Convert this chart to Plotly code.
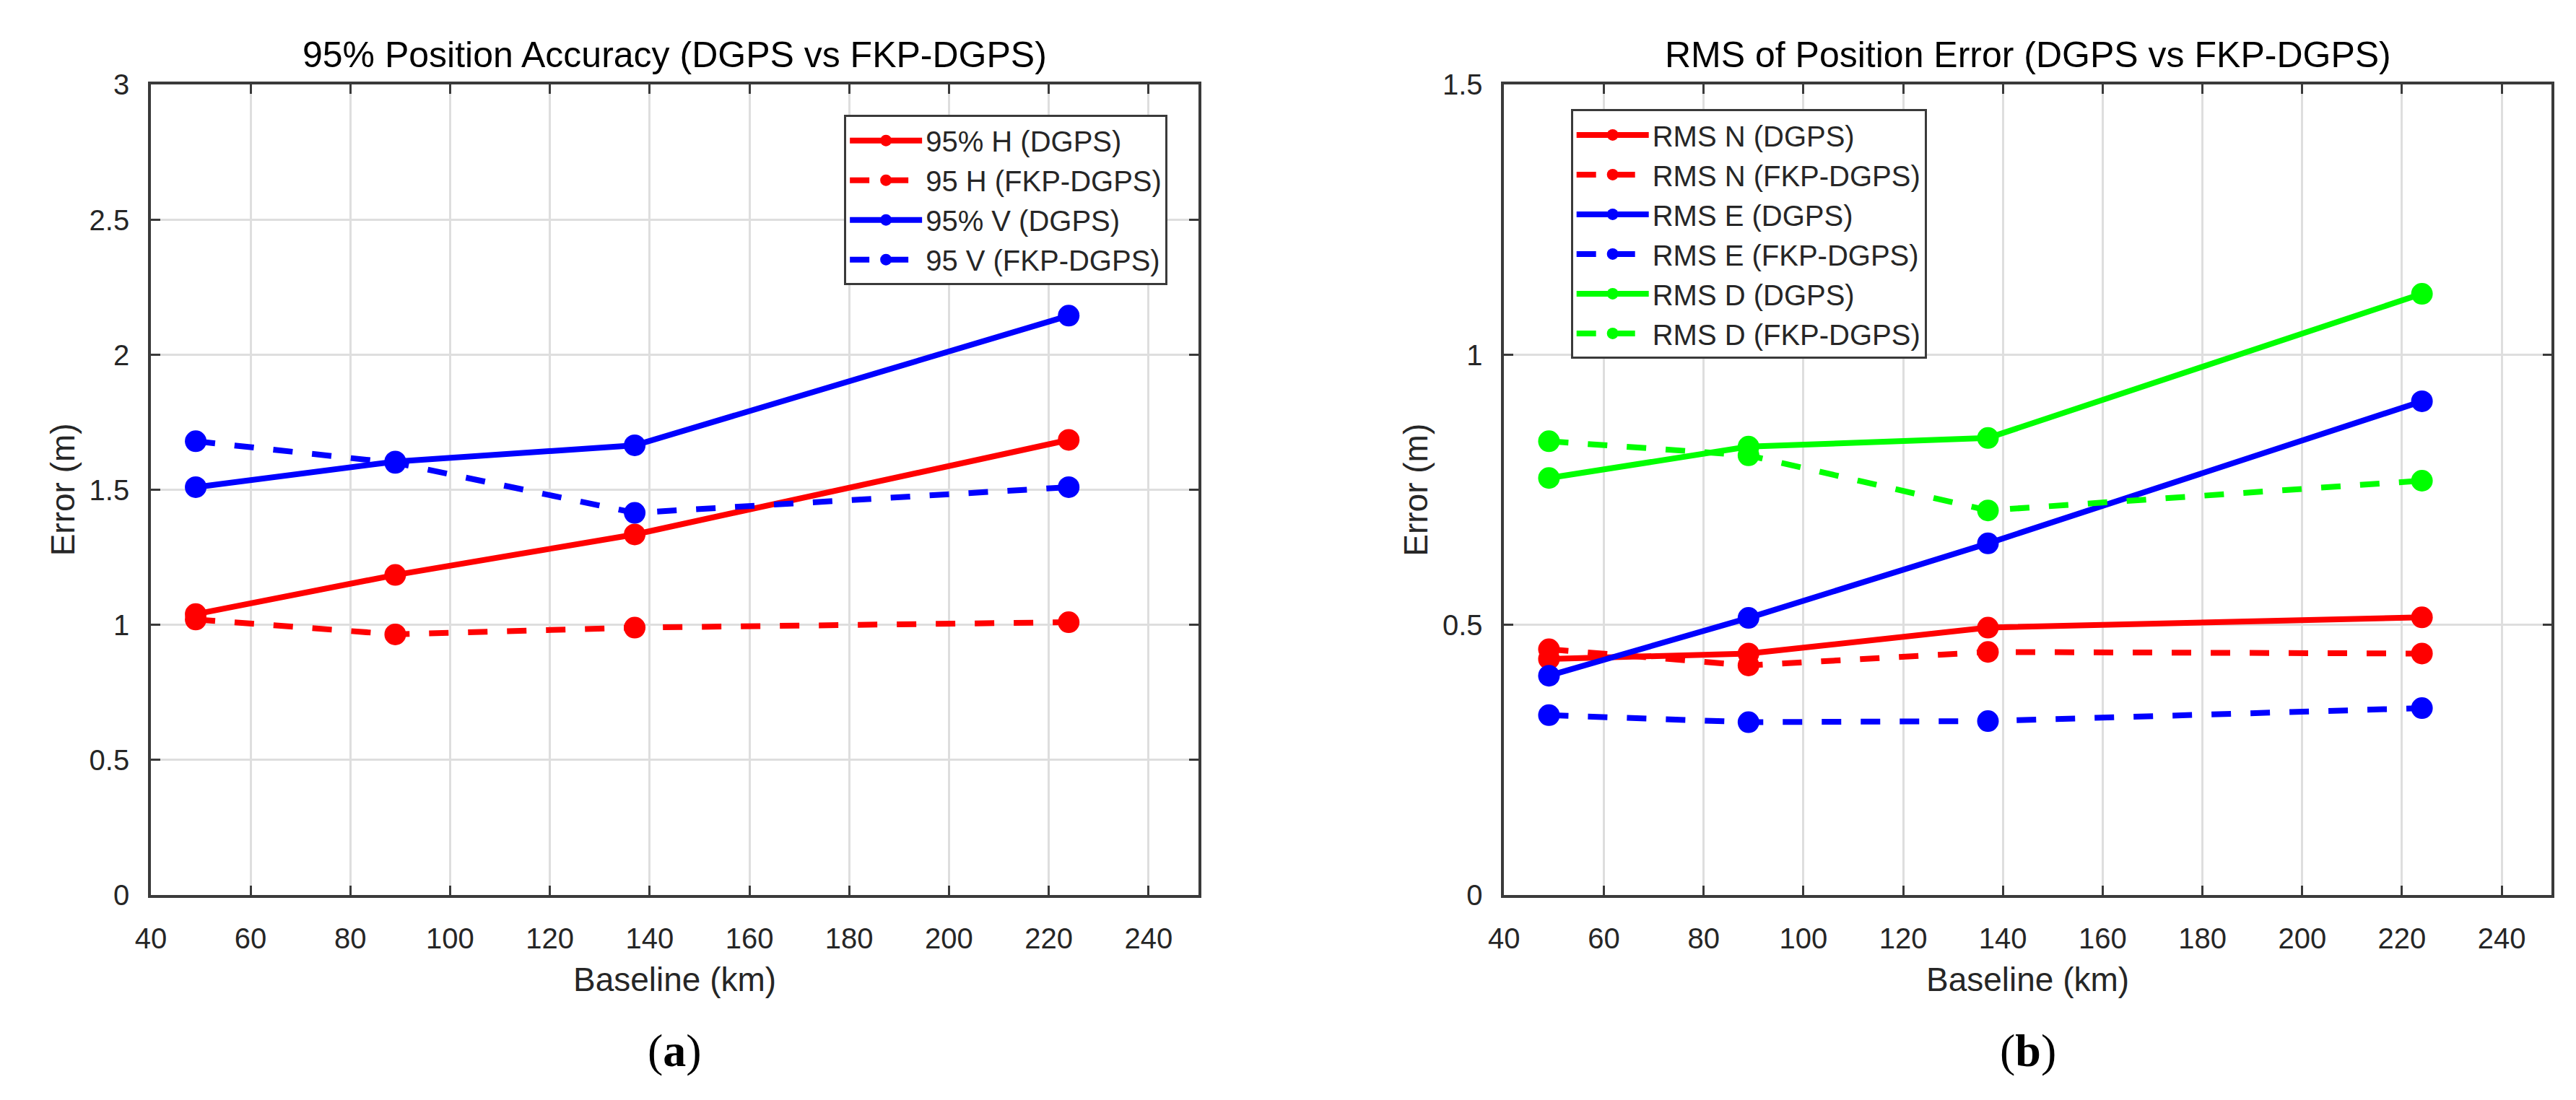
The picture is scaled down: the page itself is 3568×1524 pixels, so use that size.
import plotly.graph_objects as go

W, H = 3568, 1524

# ---------------- data ----------------
baseline_km = [49, 89, 137, 224]

# (a) 95% position accuracy
h95_dgps = [1.04, 1.185, 1.335, 1.685]
h95_fkp = [1.02, 0.965, 0.99, 1.01]
v95_dgps = [1.51, 1.605, 1.665, 2.145]
v95_fkp = [1.68, 1.60, 1.415, 1.51]

# (b) RMS of position error
rms_n_dgps = [0.437, 0.447, 0.495, 0.514]
rms_n_fkp = [0.455, 0.425, 0.45, 0.447]
rms_e_dgps = [0.406, 0.513, 0.651, 0.914]
rms_e_fkp = [0.333, 0.320, 0.322, 0.346]
rms_d_dgps = [0.772, 0.830, 0.846, 1.113]
rms_d_fkp = [0.840, 0.814, 0.712, 0.767]

x_ticks = [40, 60, 80, 100, 120, 140, 160, 180, 200, 220, 240]
y_ticks_a = [0, 0.5, 1, 1.5, 2, 2.5, 3]
y_ticks_a_text = ["0", "0.5", "1", "1.5", "2", "2.5", "3"]
y_ticks_b = [0, 0.5, 1, 1.5]
y_ticks_b_text = ["0", "0.5", "1", "1.5"]

titles = ["95% Position Accuracy (DGPS vs FKP-DGPS)",
          "RMS of Position Error (DGPS vs FKP-DGPS)"]
xlabel = "Baseline (km)"
ylabel = "Error (m)"
panel_labels = ["(<b>a</b>)", "(<b>b</b>)"]

# ---------------- layout geometry (pixels) ----------------
AX1 = (180, 1640)
AX2 = (2066, 3526)
Y_TOP, Y_BOT = 90, 1246

def px(x):
    return x / W

def py(y):
    return 1 - y / H

RED, BLUE, GREEN = "#FF0000", "#0000FF", "#00FF00"
LW = 8
DASH = "27px,27px"
MS = 30
FONT = "Liberation Sans, Arial, Helvetica, sans-serif"
TXT = "#262626"

fig = go.Figure()

def add(x, y, name, color, dash, xa, ya, legend):
    fig.add_trace(go.Scatter(
        x=x, y=y, name=name, mode="lines+markers",
        line=dict(color=color, width=LW, dash=dash),
        marker=dict(color=color, size=MS, symbol="circle"),
        xaxis=xa, yaxis=ya, legend=legend,
    ))

add(baseline_km, h95_dgps, "95% H (DGPS)", RED, "solid", "x", "y", "legend")
add(baseline_km, h95_fkp, "95 H (FKP-DGPS)", RED, DASH, "x", "y", "legend")
add(baseline_km, v95_dgps, "95% V (DGPS)", BLUE, "solid", "x", "y", "legend")
add(baseline_km, v95_fkp, "95 V (FKP-DGPS)", BLUE, DASH, "x", "y", "legend")

add(baseline_km, rms_n_dgps, "RMS N (DGPS)", RED, "solid", "x2", "y2", "legend2")
add(baseline_km, rms_n_fkp, "RMS N (FKP-DGPS)", RED, DASH, "x2", "y2", "legend2")
add(baseline_km, rms_e_dgps, "RMS E (DGPS)", BLUE, "solid", "x2", "y2", "legend2")
add(baseline_km, rms_e_fkp, "RMS E (FKP-DGPS)", BLUE, DASH, "x2", "y2", "legend2")
add(baseline_km, rms_d_dgps, "RMS D (DGPS)", GREEN, "solid", "x2", "y2", "legend2")
add(baseline_km, rms_d_fkp, "RMS D (FKP-DGPS)", GREEN, DASH, "x2", "y2", "legend2")

axis_common = dict(
    showline=True, linecolor="#3a3a3a", linewidth=3.5, mirror="ticks",
    ticks="inside", ticklen=13, tickwidth=2.5, tickcolor="#3a3a3a",
    showgrid=True, gridcolor="#dedede", gridwidth=2.5,
    zeroline=False,
    tickfont=dict(family=FONT, size=40, color=TXT),
)

xaxis_common = dict(axis_common, range=[40, 250], tickmode="array",
                    tickvals=x_ticks, ticktext=[str(t) for t in x_ticks],
                    ticklabelstandoff=22)

legend_common = dict(
    bgcolor="white", bordercolor="#3a3a3a", borderwidth=3,
    font=dict(family=FONT, size=40, color=TXT),
    itemwidth=100, tracegroupgap=0, itemsizing="trace",
)

fig.update_layout(
    width=W, height=H,
    margin=dict(l=0, r=0, t=0, b=0),
    paper_bgcolor="white", plot_bgcolor="white",
    xaxis=dict(xaxis_common, domain=[px(AX1[0]), px(AX1[1])], anchor="y"),
    yaxis=dict(axis_common, domain=[py(Y_BOT), py(Y_TOP)], anchor="x",
               range=[0, 3], tickmode="array", tickvals=y_ticks_a,
               ticktext=y_ticks_a_text, ticklabelstandoff=18),
    xaxis2=dict(xaxis_common, domain=[px(AX2[0]), px(AX2[1])], anchor="y2"),
    yaxis2=dict(axis_common, domain=[py(Y_BOT), py(Y_TOP)], anchor="x2",
                range=[0, 1.5], tickmode="array", tickvals=y_ticks_b,
                ticktext=y_ticks_b_text, ticklabelstandoff=18),
    legend=dict(legend_common, x=px(1597), xanchor="right",
                y=py(133), yanchor="top"),
    legend2=dict(legend_common, x=px(2159), xanchor="left",
                 y=py(125), yanchor="top"),
    showlegend=True,
)

annos = []
for (x0, x1), title, plab in zip([AX1, AX2], titles, panel_labels):
    cx = (x0 + x1) / 2
    annos.append(dict(text=title, x=px(cx), y=py(47), xref="paper", yref="paper",
                      showarrow=False, xanchor="center", yanchor="middle",
                      font=dict(family=FONT, size=50, color="#000000")))
    annos.append(dict(text=xlabel, x=px(cx), y=py(1366), xref="paper", yref="paper",
                      showarrow=False, xanchor="center", yanchor="middle",
                      font=dict(family=FONT, size=46, color=TXT)))
    annos.append(dict(text=ylabel, x=px(x0 - 123), y=py((Y_TOP + Y_BOT) / 2),
                      xref="paper", yref="paper", textangle=-90,
                      showarrow=False, xanchor="center", yanchor="middle",
                      font=dict(family=FONT, size=46, color=TXT)))
    annos.append(dict(text=plab, x=px(cx), y=py(1468), xref="paper", yref="paper",
                      showarrow=False, xanchor="center", yanchor="middle",
                      font=dict(family="Liberation Serif, Times New Roman, serif",
                                size=64, color="#000000")))
fig.update_layout(annotations=annos)

fig.write_html("out.html")
